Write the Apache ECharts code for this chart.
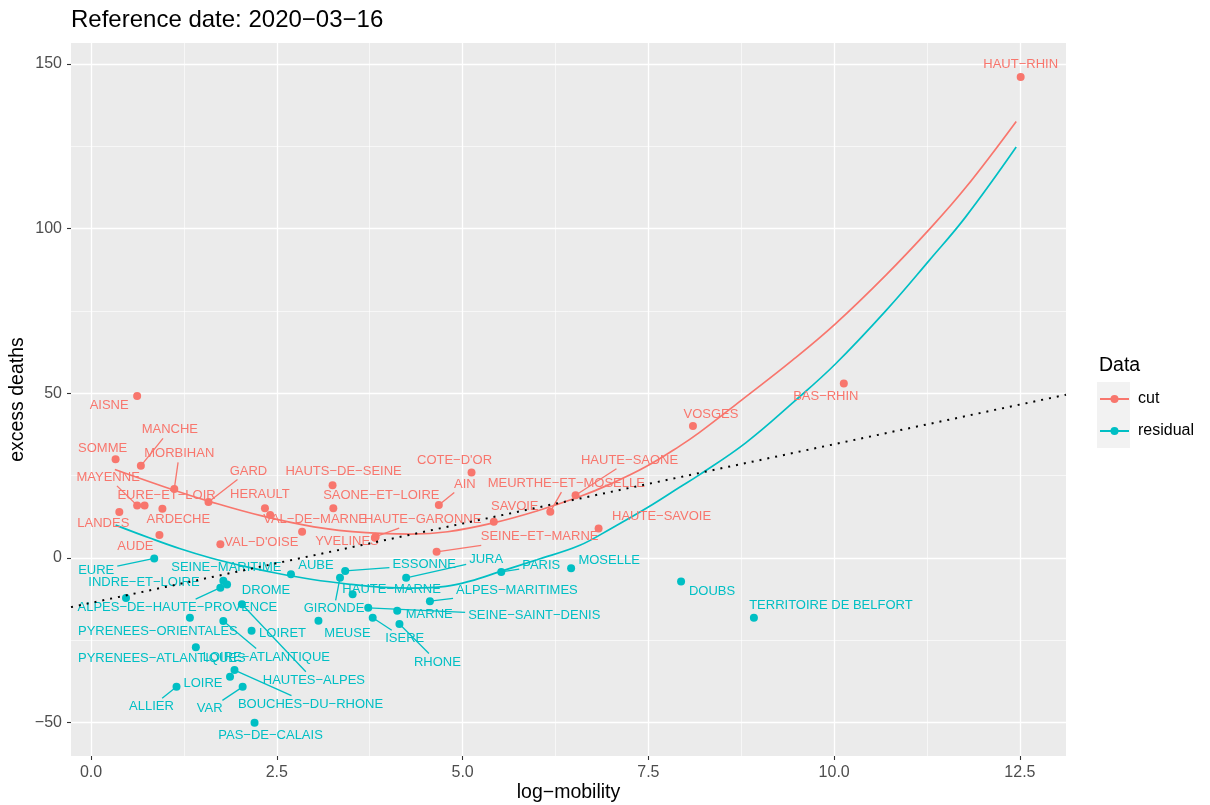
<!DOCTYPE html>
<html>
<head>
<meta charset="utf-8">
<script src="https://cdn.jsdelivr.net/npm/echarts@6/dist/echarts.min.js"></script>
<style>
  html, body { margin: 0; padding: 0; background: #fff; }
  #main { width: 1210px; height: 805px; }
</style>
</head>
<body>
<div id="main"></div>
<script>
// ---- data ----
const cutNames = ['AISNE', 'SOMME', 'MANCHE', 'MORBIHAN', 'MAYENNE', 'EURE-ET-LOIR', 'ARDECHE', 'LANDES', 'AUDE',
  'GARD', "VAL-D'OISE", 'HERAULT', '', 'VAL-DE-MARNE', 'HAUTS-DE-SEINE', 'SAONE-ET-LOIRE', 'YVELINES', 'HAUTE-GARONNE',
  "COTE-D'OR", 'AIN', 'SEINE-ET-MARNE', 'SAVOIE', 'MEURTHE-ET-MOSELLE', 'HAUTE-SAONE', 'HAUTE-SAVOIE', 'VOSGES',
  'BAS-RHIN', 'HAUT-RHIN']
const cutX = [0.62, 0.33, 0.67, 1.12, 0.62, 0.72, 0.96, 0.38, 0.92,
  1.58, 1.74, 2.34, 2.41, 2.84, 3.25, 3.26, 3.82, 3.83,
  5.12, 4.68, 4.65, 5.42, 6.18, 6.52, 6.83, 8.10,
  10.13, 12.51]
const cutY = [49.2, 30.0, 28.0, 21.0, 16.0, 16.0, 15.0, 14.0, 7.0,
  17.0, 4.2, 15.1, 13.1, 8.0, 22.1, 15.1, 6.2, 6.5,
  26.0, 16.1, 1.9, 11.0, 14.1, 19.1, 9.0, 40.1,
  53.0, 146.1]

const residualNames = ['EURE', 'INDRE-ET-LOIRE', 'SEINE-MARITIME', 'DROME', 'ALPES-DE-HAUTE-PROVENCE', 'AUBE',
  'ESSONNE', 'GIRONDE', 'HAUTE-MARNE', 'JURA', 'PARIS', 'MOSELLE', 'ALPES-MARITIMES', 'SEINE-SAINT-DENIS',
  'MARNE', 'ISERE', 'MEUSE', 'RHONE', 'DOUBS', 'TERRITOIRE DE BELFORT', 'PYRENEES-ORIENTALES',
  'PYRENEES-ATLANTIQUES', 'LOIRE-ATLANTIQUE', 'HAUTES-ALPES', 'LOIRET', 'BOUCHES-DU-RHONE', 'LOIRE',
  'ALLIER', 'VAR', 'PAS-DE-CALAIS']
const residualX = [0.85, 0.47, 1.78, 1.83, 1.74, 2.69,
  3.42, 3.35, 3.52, 4.24, 5.52, 6.46, 4.56, 3.73,
  4.12, 3.79, 3.06, 4.15, 7.94, 8.92, 1.33,
  1.41, 1.78, 2.03, 2.16, 1.93, 1.87,
  1.15, 2.04, 2.20]
const residualY = [-0.1, -12.1, -6.9, -8.0, -9.0, -4.9,
  -3.9, -6.0, -11.0, -6.0, -4.2, -3.1, -13.1, -15.1,
  -16.0, -18.1, -19.0, -20.0, -7.1, -18.1, -18.1,
  -27.1, -19.1, -14.0, -22.1, -34.0, -36.0,
  -39.1, -39.1, -50.0]

// fitted curves (x, y)
const cutCurve = [[0.32, 26.9], [1.12, 20.6], [1.58, 17.3], [2.3, 12.8], [3.0, 9.5], [3.7, 7.7], [4.3, 7.3],
  [4.8, 8.0], [5.4, 10.6], [6.0, 14.3], [6.57, 18.6], [7.0, 22.6], [7.47, 27.8], [7.92, 34.0], [8.18, 38.0],
  [8.75, 47.9], [9.44, 60.1], [10.02, 71.2], [10.7, 86.0], [11.28, 99.8], [11.77, 112.5], [12.45, 132.6]]
const residualCurve = [[0.33, 10.0], [0.8, 6.0], [1.19, 2.9], [1.6, 0.1], [2.08, -2.6], [2.5, -4.6],
  [2.98, -6.5], [3.5, -8.0], [3.88, -8.8], [4.33, -9.1], [4.77, -8.6], [5.1, -7.0], [5.49, -4.2], [6.0, -0.5],
  [6.57, 3.8], [7.0, 9.0], [7.5, 15.5], [7.92, 21.5], [8.18, 25.2], [8.81, 35.0], [9.46, 47.5], [10.02, 59.0],
  [10.7, 75.2], [11.28, 90.4], [11.77, 103.6], [12.45, 124.8]]
// reference line ends at the panel edges
const refLine = [[-0.27, -14.9], [13.12, 49.6]]

const xTicks = [0, 2.5, 5, 7.5, 10, 12.5]
const xMinor = [1.25, 3.75, 6.25, 8.75, 11.25]
const yTicks = [-50, 0, 50, 100, 150]
const yMinor = [-25, 25, 75, 125]

// ---- label placement (pixel offset of label centre from its point, and whether a segment is drawn) ----
const cutLabelOffset = [[-28, 9], [-13, -11], [29, -36], [5, -35], [-29, -28], [22, -10], [16, 11], [-16, 11], [-24, 11],
  [40, -31], [41, -2], [-5, -14], [0, 0], [13, -12], [11, -14], [48, -13], [-28, 4], [47, -17],
  [-17, -12], [26, -21], [103, -15], [21, -15], [16, -28], [54, -35], [63, -12], [18, -12],
  [-18, 13], [0, -12]]
const cutSegment = [0, 0, 1, 1, 1, 0, 0, 0, 0,
  1, 0, 0, 0, 0, 0, 0, 0, 1,
  0, 1, 1, 0, 1, 1, 0, 0,
  0, 0]
const residualLabelOffset = [[-58, 12], [18, -15], [3, -13], [39, 6], [-43, 20], [25, -9],
  [79, -6], [-6, 31], [39, -5], [80, -18], [40, -6], [38, -8], [87, -11], [166, 8],
  [32, 4], [32, 21], [29, 13], [38, 38], [31, 10], [77, -12], [-32, 14],
  [-34, 11], [43, 36], [72, 76], [31, 3], [76, 34], [-27, 7],
  [-25, 20], [-33, 22], [16, 13]]
const residualSegment = [1, 0, 0, 0, 1, 0,
  1, 1, 0, 1, 1, 0, 1, 1,
  0, 1, 0, 1, 0, 0, 0,
  0, 1, 1, 0, 1, 0,
  1, 1, 0]

const RED = '#F8766D'
const CYAN = '#00BFC4'
const FONT = '"Liberation Sans", Arial, Helvetica, sans-serif'
const LABEL_SIZE = 13
const MINUS = '\u2212'

const measureCtx = document.createElement('canvas').getContext('2d')
measureCtx.font = LABEL_SIZE + 'px ' + FONT
function labelText (name) { return name.replace(/-/g, MINUS) }

// label centre at point + offset
function placeLabels (offsets) {
  return function (p) {
    const off = offsets[p.dataIndex]
    return {
      x: p.rect.x + p.rect.width / 2 + off[0],
      y: p.rect.y + p.rect.height / 2 + off[1],
      align: 'center',
      verticalAlign: 'middle'
    }
  }
}

function pointSeries (name, color, names, xs, ys, offsets) {
  return {
    name: name,
    type: 'scatter',
    symbol: 'circle',
    symbolSize: 8,
    itemStyle: { color: color, opacity: 1 },
    data: names.map(function (n, i) {
      return { name: n, value: [xs[i], ys[i]], label: { show: n !== '' } }
    }),
    label: {
      show: true,
      position: 'inside',
      formatter: function (p) { return labelText(p.name) },
      color: color,
      fontSize: LABEL_SIZE,
      fontFamily: FONT
    },
    labelLayout: placeLabels(offsets),
    z: 3
  }
}

// repel-style segment: from the point towards the label centre, stopping at the text box
function segmentSeries (color, names, xs, ys, segs, offsets) {
  return {
    type: 'custom',
    silent: true,
    z: 2.5,
    data: xs.map(function (x, i) { return [x, ys[i]] }),
    renderItem: function (params, api) {
      const i = params.dataIndex
      if (!segs[i]) return null
      const pt = api.coord([api.value(0), api.value(1)])
      const off = offsets[i]
      const hw = measureCtx.measureText(labelText(names[i])).width / 2 + 3
      const hh = LABEL_SIZE / 2 + 2
      const dx = off[0]
      const dy = off[1]
      let s = Math.min(dx === 0 ? Infinity : hw / Math.abs(dx), dy === 0 ? Infinity : hh / Math.abs(dy))
      s = Math.min(s, 1)
      return {
        type: 'line',
        shape: { x1: pt[0], y1: pt[1], x2: pt[0] + dx * (1 - s), y2: pt[1] + dy * (1 - s) },
        style: { stroke: color, lineWidth: 1.3 }
      }
    }
  }
}

function curveSeries (name, color, data) {
  return {
    name: name,
    type: 'line',
    data: data,
    smooth: 0.4,
    symbol: 'circle',
    symbolSize: 8,
    showSymbol: false,
    itemStyle: { color: color },
    lineStyle: { color: color, width: 1.7 },
    z: 2
  }
}

const axisTextStyle = { color: '#4D4D4D', fontSize: 16, fontFamily: FONT }

var myChart = echarts.init(document.getElementById('main'))

var option = {
  animation: false,
  backgroundColor: '#FFFFFF',
  title: [
    {
      text: 'Reference date: 2020' + MINUS + '03' + MINUS + '16',
      left: 66,
      top: 3,
      textStyle: { fontSize: 24, fontWeight: 'normal', color: '#000', fontFamily: FONT }
    },
    {
      text: 'Data',
      left: 1094,
      top: 351,
      textStyle: { fontSize: 19.5, fontWeight: 'normal', color: '#000', fontFamily: FONT }
    }
  ],
  legend: {
    data: ['cut', 'residual'],
    orient: 'vertical',
    left: 1099,
    top: 391,
    padding: 0,
    itemWidth: 29,
    itemHeight: 10,
    itemGap: 16,
    textStyle: { fontSize: 16, color: '#000', fontFamily: FONT, padding: [0, 0, 0, 4] }
  },
  graphic: [
    { type: 'rect', left: 1097, top: 382, shape: { width: 33, height: 66 }, style: { fill: '#F2F2F2' }, z: 0 }
  ],
  grid: {
    left: 71,
    right: 144,
    top: 43,
    bottom: 49,
    outerBoundsMode: 'none',
    containLabel: false,
    show: true,
    backgroundColor: '#EBEBEB',
    borderWidth: 0
  },
  xAxis: [
    {
      type: 'value',
      min: -0.27,
      max: 13.12,
      name: 'log' + MINUS + 'mobility',
      nameLocation: 'middle',
      nameGap: 27,
      nameMoveOverlap: false,
      nameTextStyle: { fontSize: 19.5, color: '#000', fontFamily: FONT },
      axisLine: { show: false, onZero: false },
      axisTick: { show: true, customValues: xTicks, length: 4, lineStyle: { color: '#333', width: 1.1 } },
      axisLabel: {
        customValues: xTicks,
        margin: 9,
        formatter: function (v) { return v.toFixed(1) },
        ...axisTextStyle
      },
      splitLine: { show: true, lineStyle: { color: '#FFFFFF', width: 1.3 } }
    },
    {
      type: 'value',
      min: -0.27,
      max: 13.12,
      axisLine: { show: false, onZero: false },
      axisTick: { show: false, customValues: xMinor },
      axisLabel: { show: false, customValues: xMinor },
      splitLine: { show: true, lineStyle: { color: '#FFFFFF', width: 0.6 } }
    }
  ],
  yAxis: [
    {
      type: 'value',
      min: -60.1,
      max: 156.4,
      name: 'excess deaths',
      nameLocation: 'middle',
      nameGap: 43,
      nameMoveOverlap: false,
      nameTextStyle: { fontSize: 19.5, color: '#000', fontFamily: FONT },
      axisLine: { show: false, onZero: false },
      axisTick: { show: true, customValues: yTicks, length: 4, lineStyle: { color: '#333', width: 1.1 } },
      axisLabel: {
        customValues: yTicks,
        margin: 9,
        formatter: function (v) { return v < 0 ? MINUS + Math.abs(v) : String(v) },
        ...axisTextStyle
      },
      splitLine: { show: true, lineStyle: { color: '#FFFFFF', width: 1.3 } }
    },
    {
      type: 'value',
      min: -60.1,
      max: 156.4,
      axisLine: { show: false, onZero: false },
      axisTick: { show: false, customValues: yMinor },
      axisLabel: { show: false, customValues: yMinor },
      splitLine: { show: true, lineStyle: { color: '#FFFFFF', width: 0.6 } }
    }
  ],
  series: [
    curveSeries('cut', RED, cutCurve),
    curveSeries('residual', CYAN, residualCurve),
    segmentSeries(RED, cutNames, cutX, cutY, cutSegment, cutLabelOffset),
    segmentSeries(CYAN, residualNames, residualX, residualY, residualSegment, residualLabelOffset),
    pointSeries('cut', RED, cutNames, cutX, cutY, cutLabelOffset),
    pointSeries('residual', CYAN, residualNames, residualX, residualY, residualLabelOffset),
    {
      name: 'reference',
      type: 'line',
      data: refLine,
      showSymbol: false,
      silent: true,
      lineStyle: { color: '#000', width: 2, type: [2, 6] },
      z: 4
    }
  ]
}

myChart.setOption(option)
</script>
</body>
</html>
